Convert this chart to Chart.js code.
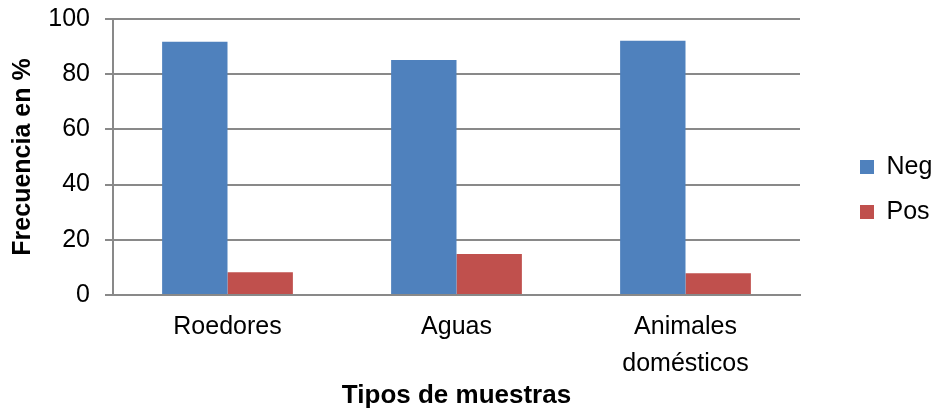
<!DOCTYPE html>
<html>
<head>
<meta charset="utf-8">
<script src="https://cdn.jsdelivr.net/npm/chart.js@4"></script>
<style>
  body { margin: 0; background: #fff; }
</style>
</head>
<body>
<canvas id="frecuenciaChart" width="934" height="413"></canvas>
<script>
// Datos del gráfico
const categorias = ["Roedores", "Aguas", ["Animales", "domésticos"]];
const negativos = [91.8, 85.1, 92.1];
const positivos = [8.2, 14.9, 7.9];
const nombresSeries = ["Neg", "Pos"];
const yMin = 0, yMax = 100, yPaso = 20;

const FUENTE = "'Liberation Sans', Arial, sans-serif";
const GRIS = '#898989';

const ctx = document.getElementById('frecuenciaChart').getContext('2d');
const frecuenciaChart = new Chart(ctx, {
    type: 'bar',
    data: {
        labels: categorias,
        datasets: [{
            label: nombresSeries[0],
            data: negativos,
            backgroundColor: '#4F81BD',
            borderWidth: 0
        }, {
            label: nombresSeries[1],
            data: positivos,
            backgroundColor: '#C0504D',
            borderWidth: 0
        }]
    },
    options: {
        responsive: false,
        animation: false,
        datasets: {
            bar: { barPercentage: 1, categoryPercentage: 0.571 }
        },
        layout: { padding: { top: 19, left: 0, right: 0, bottom: 0 } },
        plugins: {
            tooltip: { enabled: false },
            legend: {
                position: 'right',
                align: 'start',
                maxWidth: 94,
                // titulo vacio solo para bajar las entradas
                title: { display: true, text: '', font: { size: 10, lineHeight: 1 }, padding: { top: 105.5, bottom: 0 } },
                labels: {
                    boxWidth: 14,
                    boxHeight: 14,
                    padding: 20,
                    color: '#000',
                    font: { family: FUENTE, size: 25 }
                }
            }
        },
        scales: {
            x: {
                grid: { display: false, drawTicks: false },
                border: { display: true, color: GRIS, width: 2 },
                ticks: {
                    color: '#000',
                    padding: 13,
                    maxRotation: 0,
                    font: { family: FUENTE, size: 25, lineHeight: 1.5 }
                },
                title: {
                    display: true,
                    text: 'Tipos de muestras',
                    color: '#000',
                    padding: { top: 0, bottom: 2 },
                    font: { family: FUENTE, size: 26, weight: 'bold' }
                },
                afterFit: (scale) => { scale.height = 118; }
            },
            y: {
                min: yMin,
                max: yMax,
                ticks: {
                    stepSize: yPaso,
                    color: '#000',
                    padding: 15,
                    font: { family: FUENTE, size: 25 }
                },
                grid: { color: GRIS, lineWidth: 2, tickLength: 8, drawTicks: true },
                border: { display: true, color: GRIS, width: 2 },
                title: {
                    display: true,
                    text: 'Frecuencia en %',
                    color: '#000',
                    padding: { top: 8, bottom: 0 },
                    font: { family: FUENTE, size: 25, weight: 'bold' }
                },
                afterFit: (scale) => {
                    scale.width = 113;
                    scale.paddingTop = 0;
                    scale.paddingBottom = 0;
                }
            },
            // eje vacio que deja el hueco entre el area y la leyenda
            hueco: {
                type: 'linear',
                position: 'right',
                display: true,
                grid: { display: false, drawTicks: false },
                border: { display: false },
                ticks: { display: false },
                afterFit: (scale) => { scale.width = 40; }
            }
        }
    }
});
</script>
</body>
</html>
